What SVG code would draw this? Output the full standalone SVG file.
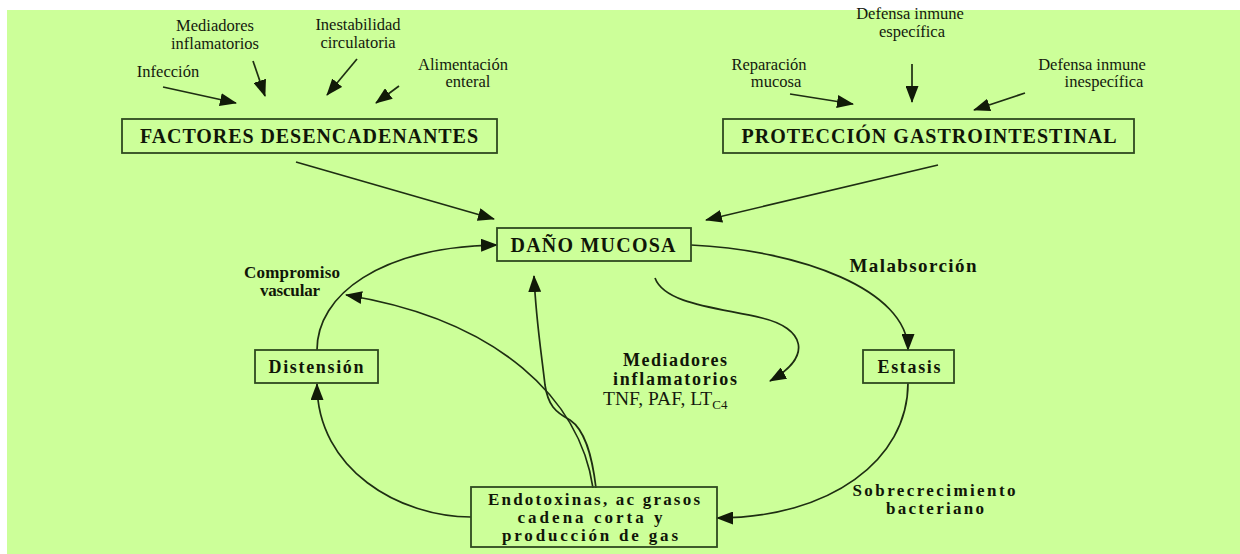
<svg xmlns="http://www.w3.org/2000/svg" width="1240" height="554" viewBox="0 0 1240 554">
<defs>
<marker id="ah" markerUnits="userSpaceOnUse" markerWidth="17" markerHeight="13" refX="16" refY="6.5" orient="auto">
<path d="M0,0 L17,6.5 L0,13 Z" fill="#111a08"/>
</marker>
<style>
.bg{fill:#ccff99}
.box{fill:none;stroke:#2f4a20;stroke-width:1.8}
.ln{fill:none;stroke:#1e2e12;stroke-width:1.7;marker-end:url(#ah)}
.t{font-family:"Liberation Serif","Times New Roman",serif;font-size:16.5px;fill:#141a0e;text-anchor:middle}
.b{font-family:"Liberation Serif","Times New Roman",serif;font-size:18px;font-weight:bold;fill:#101608;text-anchor:middle}
.s{font-family:"Liberation Serif","Times New Roman",serif;font-size:17px;font-weight:bold;fill:#101608;text-anchor:middle}
.bb{font-family:"Liberation Serif","Times New Roman",serif;font-size:20px;font-weight:bold;fill:#101608;text-anchor:middle}
</style>
</defs>
<rect x="0" y="0" width="1240" height="554" fill="#ffffff"/>
<rect class="bg" x="7" y="10" width="1233" height="544"/>

<g id="connectors">
<line class="ln" x1="163" y1="87" x2="236" y2="103"/>
<line class="ln" x1="253" y1="61" x2="265" y2="96"/>
<line class="ln" x1="357" y1="59" x2="327" y2="95"/>
<line class="ln" x1="399" y1="86" x2="376" y2="103"/>
<line class="ln" x1="790" y1="94" x2="853" y2="104"/>
<line class="ln" x1="912" y1="64" x2="912" y2="102"/>
<line class="ln" x1="1025" y1="93" x2="974" y2="110"/>
<line class="ln" x1="296" y1="162" x2="494" y2="219"/>
<line class="ln" x1="938" y1="165" x2="706" y2="220"/>
<path class="ln" d="M317,350 C317,295 380,247 497,245"/>
<path class="ln" d="M691,245 C800,250 908,290 908,350"/>
<path class="ln" d="M908,383 C908,460 830,518 717,518"/>
<path class="ln" d="M471,517 C400,517 317,470 317,384"/>
<path class="ln" d="M593,488 C580,400 500,320 346,295"/>
<path class="ln" d="M596,488 C592,455 585,430 570,420 C555,412 548,405 545,385 C541,350 536,320 534,276"/>
<path class="ln" d="M655,278 C665,305 722,308 762,318 C804,328 814,356 770,381"/>
</g>

<g id="inputs-left">
<text class="t" x="215" y="31">Mediadores</text>
<text class="t" x="215" y="49">inflamatorios</text>
<text class="t" x="358" y="30">Inestabilidad</text>
<text class="t" x="358" y="48">circulatoria</text>
<text class="t" x="168" y="77">Infección</text>
<text class="t" x="463" y="70">Alimentación</text>
<text class="t" x="468" y="87">enteral</text>
</g>

<g id="inputs-right">
<text class="t" x="910" y="19">Defensa inmune</text>
<text class="t" x="912" y="37">específica</text>
<text class="t" x="769" y="70">Reparación</text>
<text class="t" x="776" y="87">mucosa</text>
<text class="t" x="1092" y="70">Defensa inmune</text>
<text class="t" x="1104" y="87">inespecífica</text>
</g>

<g id="factores">
<rect class="box" x="122" y="119" width="375" height="34"/>
<text class="bb" x="309" y="143" textLength="338" lengthAdjust="spacing">FACTORES DESENCADENANTES</text>
</g>

<g id="proteccion">
<rect class="box" x="723" y="119" width="411" height="34"/>
<text class="bb" x="929" y="143" textLength="375" lengthAdjust="spacing">PROTECCIÓN GASTROINTESTINAL</text>
</g>

<g id="dano">
<rect class="box" x="497" y="228" width="194" height="33"/>
<text class="bb" x="593" y="252" textLength="165" lengthAdjust="spacing">DAÑO MUCOSA</text>
</g>

<g id="malabsorcion">
<text class="b" x="913" y="272" style="font-size:19px" textLength="127" lengthAdjust="spacing">Malabsorción</text>
</g>

<g id="compromiso">
<text class="s" x="292" y="278" textLength="96" lengthAdjust="spacing">Compromiso</text>
<text class="s" x="290" y="296" textLength="60" lengthAdjust="spacing">vascular</text>
</g>

<g id="distension">
<rect class="box" x="255" y="350" width="123" height="33"/>
<text class="b" x="316" y="373" textLength="95" lengthAdjust="spacing">Distensión</text>
</g>

<g id="estasis">
<rect class="box" x="863" y="350" width="91" height="33"/>
<text class="b" x="909" y="373" textLength="63" lengthAdjust="spacing">Estasis</text>
</g>

<g id="mediadores">
<text class="b" x="675" y="366" textLength="104" lengthAdjust="spacing">Mediadores</text>
<text class="b" x="675" y="385" textLength="124" lengthAdjust="spacing">inflamatorios</text>
<text class="t" x="603" y="405" style="text-anchor:start;font-size:19.5px">TNF, PAF, LT<tspan font-size="13" dy="4">C4</tspan></text>
</g>

<g id="sobrecrecimiento">
<text class="s" x="934" y="496" textLength="163" lengthAdjust="spacing">Sobrecrecimiento</text>
<text class="s" x="935" y="514" textLength="98" lengthAdjust="spacing">bacteriano</text>
</g>

<g id="endotoxinas">
<rect class="box" x="471" y="487" width="246" height="60"/>
<text class="s" x="594" y="505" textLength="212" lengthAdjust="spacing">Endotoxinas, ac grasos</text>
<text class="s" x="590" y="523" textLength="145" lengthAdjust="spacing">cadena corta y</text>
<text class="s" x="590" y="541" textLength="176" lengthAdjust="spacing">producción de gas</text>
</g>
</svg>
